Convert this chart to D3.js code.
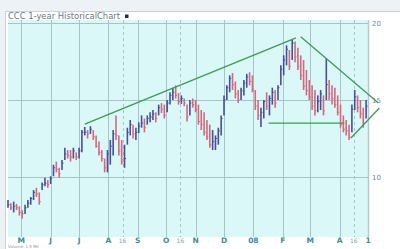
<!DOCTYPE html>
<html>
<head>
<meta charset="utf-8">
<script src="https://cdn.jsdelivr.net/npm/d3@7"></script>
<style>
  html, body { margin: 0; padding: 0; background: #edf2f6; }
  svg { display: block; }
</style>
</head>
<body>
<div id="chart"></div>
<script>
// Price bars, one every 3 calendar days from 17 Apr 2007
const startDate = "2007-04-17";
const highs = [8.5, 8.3, 8.4, 8.25, 8.1, 7.85, 8.2, 8.5, 8.7, 9.15, 9.3, 9.0, 9.65, 9.95, 9.8, 10.05,
  10.8, 11.0, 10.6, 11.1, 11.9, 11.75, 11.75, 11.9, 11.6, 11.9, 13.05, 13.25, 13.05, 13.3, 13.05, 12.7,
  12.3, 11.75, 11.2, 11.75, 12.4, 13.05, 14.0, 12.7, 12.4, 12.1, 13.2, 13.7, 13.4, 13.2, 13.55, 14.0,
  13.8, 14.0, 14.2, 14.35, 14.2, 14.7, 14.8, 14.7, 15.0, 15.5, 15.8, 15.95, 15.45, 15.3, 15.1, 14.7,
  15.0, 15.1, 15.0, 14.7, 14.35, 14.2, 13.7, 13.4, 13.05, 12.7, 13.2, 14.0, 15.3, 15.95, 16.6, 16.75,
  16.2, 15.65, 15.8, 16.3, 16.7, 16.8, 16.6, 15.65, 15.0, 14.5, 15.0, 15.5, 15.3, 15.8, 15.65, 15.95,
  17.25, 17.9, 18.55, 18.25, 18.9, 18.8, 18.4, 17.9, 17.6, 16.95, 16.3, 15.95, 15.65, 15.3, 15.65, 15.3,
  17.7, 16.3, 15.95, 15.8, 15.3, 14.7, 14.0, 13.7, 13.4, 14.7, 15.65, 15.3, 15.0, 14.5, 15.0];
const lows = [8.0, 7.85, 7.7, 7.85, 7.5, 7.3, 7.6, 8.0, 8.2, 8.5, 8.7, 8.2, 9.15, 9.4, 9.3, 9.55,
  10.05, 10.3, 9.95, 10.45, 11.1, 11.2, 11.0, 11.2, 11.1, 11.2, 11.6, 12.7, 12.5, 12.8, 12.4, 11.9,
  11.4, 11.0, 10.3, 10.3, 10.8, 11.4, 12.4, 11.4, 10.8, 10.6, 12.1, 12.7, 12.5, 12.4, 12.85, 13.2,
  12.9, 13.4, 13.55, 13.7, 13.55, 14.0, 14.15, 13.8, 14.2, 14.7, 15.0, 15.1, 14.7, 14.75, 14.6, 13.6,
  14.0, 14.5, 14.2, 13.4, 13.05, 12.7, 12.4, 11.9, 11.75, 11.75, 12.1, 12.7, 14.0, 15.0, 15.5, 15.65,
  15.1, 14.8, 15.0, 15.3, 15.8, 15.95, 15.5, 14.35, 13.7, 13.25, 13.8, 14.35, 14.0, 14.7, 14.5, 15.0,
  15.95, 16.6, 17.25, 16.95, 17.6, 17.45, 16.95, 16.3, 15.65, 15.3, 15.0, 14.35, 14.0, 14.2, 14.35, 14.0,
  15.0, 15.0, 14.7, 14.5, 14.0, 13.2, 12.9, 12.7, 12.4, 12.9, 14.35, 14.2, 13.8, 13.2, 13.8];
const closes = [8.2, 8.0, 8.1, 8.0, 7.7, 7.6, 8.0, 8.3, 8.6, 9.0, 8.9, 8.4, 9.5, 9.6, 9.5, 9.9,
  10.6, 10.5, 10.2, 10.9, 11.5, 11.4, 11.3, 11.7, 11.3, 11.7, 12.9, 12.9, 12.8, 13.1, 12.6, 12.0,
  11.6, 11.2, 10.6, 11.5, 12.0, 12.8, 12.7, 11.7, 11.0, 11.2, 12.9, 13.4, 12.8, 12.9, 13.3, 13.5,
  13.2, 13.8, 13.9, 14.1, 13.8, 14.5, 14.4, 14.0, 14.8, 15.3, 15.5, 15.3, 14.9, 15.1, 14.8, 13.9,
  14.8, 14.7, 14.4, 13.6, 13.4, 12.9, 12.6, 12.1, 12.3, 12.5, 13.0, 13.8, 15.0, 15.8, 16.4, 16.0,
  15.4, 15.0, 15.6, 16.1, 16.5, 16.2, 15.7, 14.6, 14.0, 14.2, 14.9, 14.6, 15.1, 15.5, 14.8, 15.8,
  17.0, 17.6, 18.3, 17.2, 18.7, 17.8, 17.2, 16.6, 15.9, 15.6, 15.2, 14.6, 14.3, 14.9, 15.4, 14.3,
  16.0, 15.4, 15.1, 14.7, 14.2, 13.4, 13.1, 13.0, 12.6, 14.4, 15.2, 14.5, 14.1, 13.5, 14.6];

// Axis ticks
const tickDates = ["2007-05-01", "2007-06-01", "2007-07-01", "2007-08-01", "2007-08-16", "2007-09-01",
  "2007-10-01", "2007-10-16", "2007-11-01", "2007-12-01", "2008-01-01", "2008-02-01", "2008-03-01",
  "2008-04-01", "2008-04-16", "2008-05-01"];
const tickLabels = ["M", "J", "J", "A", "16", "S", "O", "16", "N", "D", "08", "F", "M", "A", "16", "1"];
const priceTicks = [10, 15, 20];

// Trend lines drawn on the chart: [date, price] pairs
const trendLines = [
  [["2007-07-07", 13.44], ["2008-02-15", 19.03]],
  [["2008-02-20", 19.1], ["2008-05-12", 14.8]],
  [["2008-04-13", 12.53], ["2008-05-13", 14.48]],
  [["2008-01-17", 13.5], ["2008-04-06", 13.5]]
];

const width = 400;
const height = 249;
const plot = { left: 8, right: 368, top: 20, bottom: 237 };
const parse = d3.timeParse("%Y-%m-%d");

const svg = d3.select("#chart").append("svg")
  .attr("width", width)
  .attr("height", height);

// Panel and plot backgrounds
svg.append("rect")
  .attr("x", 5.5).attr("y", 11.5)
  .attr("width", 420).attr("height", 260)
  .attr("fill", "#ffffff")
  .attr("stroke", "#c9d2da");

svg.append("rect")
  .attr("x", plot.left).attr("y", plot.top)
  .attr("width", plot.right - plot.left)
  .attr("height", plot.bottom - plot.top)
  .attr("fill", "#dbf8f8");

svg.append("text")
  .attr("x", 8).attr("y", 18.5)
  .style("font-family", "DejaVu Sans, Verdana, sans-serif")
  .style("font-size", "8.4px")
  .attr("fill", "#6a7684")
  .text("CCC 1-year HistoricalChart");

svg.append("rect")
  .attr("x", 125).attr("y", 14.5)
  .attr("width", 3.5).attr("height", 3.5)
  .attr("fill", "#1d2a66");

// Scales
const x = d3.scaleTime()
  .domain([parse("2007-04-17"), parse("2008-05-01")])
  .range([plot.left, plot.right]);

const y = d3.scaleLinear()
  .domain([10, 20])
  .range([177, 23]);

// Vertical grid
const ticks = tickDates.map((d, i) => ({ date: parse(d), label: tickLabels[i] }));

svg.append("g")
  .selectAll("line")
  .data(ticks)
  .enter()
  .append("line")
  .attr("x1", (d) => Math.round(x(d.date)) + 0.5)
  .attr("x2", (d) => Math.round(x(d.date)) + 0.5)
  .attr("y1", plot.top)
  .attr("y2", plot.bottom)
  .attr("stroke", (d) => (d.label === "1" ? "#b9c6cc" : "#a9c4c8"))
  .attr("stroke-width", (d) => (d.label === "1" ? 1.5 : 1))
  .attr("stroke-dasharray", (d) => (d.label === "16" ? "3,3" : null));

// Horizontal grid
svg.append("g")
  .selectAll("line")
  .data(priceTicks)
  .enter()
  .append("line")
  .attr("x1", plot.left)
  .attr("x2", plot.right)
  .attr("y1", (d) => Math.round(y(d)) + 0.5)
  .attr("y2", (d) => Math.round(y(d)) + 0.5)
  .attr("stroke", "#a9c4c8");

// Price labels on the right
svg.append("g")
  .selectAll("text")
  .data(priceTicks)
  .enter()
  .append("text")
  .attr("x", 372)
  .attr("y", (d) => y(d) + 3)
  .style("font-family", "DejaVu Sans, Verdana, sans-serif")
  .style("font-size", "7px")
  .attr("fill", "#6f8c98")
  .text((d) => d);

// Date labels
svg.append("g")
  .selectAll("text")
  .data(ticks)
  .enter()
  .append("text")
  .attr("x", (d) => x(d.date))
  .attr("y", 242.5)
  .attr("text-anchor", "middle")
  .style("font-family", "DejaVu Sans, Verdana, sans-serif")
  .style("font-size", (d) => (d.label === "16" ? "6px" : "7.5px"))
  .style("font-weight", (d) => (d.label === "16" ? "normal" : "bold"))
  .attr("fill", (d) => (d.label === "16" ? "#8aa0a8" : "#3f8a9c"))
  .text((d) => d.label);

svg.append("text")
  .attr("x", 8).attr("y", 248)
  .style("font-family", "DejaVu Sans, Verdana, sans-serif")
  .style("font-size", "4px")
  .attr("fill", "#8a96a0")
  .text("Volume:      1.5 Mil");

// Price bars
const bars = highs.map((h, i) => ({
  date: d3.timeDay.offset(parse(startDate), i * 3),
  high: h,
  low: lows[i],
  close: closes[i],
  up: i > 0 ? closes[i] >= closes[i - 1] : true
}));

svg.append("g")
  .selectAll("line")
  .data(bars)
  .enter()
  .append("line")
  .attr("x1", (d) => x(d.date))
  .attr("x2", (d) => x(d.date))
  .attr("y1", (d) => y(d.high))
  .attr("y2", (d) => y(d.low))
  .attr("stroke", (d) => (d.up ? "#4a4f96" : "#d4687c"))
  .attr("stroke-width", 1.6);

svg.append("g")
  .selectAll("line")
  .data(bars)
  .enter()
  .append("line")
  .attr("x1", (d) => x(d.date))
  .attr("x2", (d) => x(d.date) + 1.5)
  .attr("y1", (d) => y(d.close))
  .attr("y2", (d) => y(d.close))
  .attr("stroke", (d) => (d.up ? "#4a4f96" : "#d4687c"))
  .attr("stroke-width", 1);

// Trend lines
svg.append("g")
  .selectAll("line")
  .data(trendLines)
  .enter()
  .append("line")
  .attr("x1", (d) => x(parse(d[0][0])))
  .attr("y1", (d) => y(d[0][1]))
  .attr("x2", (d) => x(parse(d[1][0])))
  .attr("y2", (d) => y(d[1][1]))
  .attr("stroke", "#3f9a55")
  .attr("stroke-width", 1.3);
</script>
</body>
</html>
